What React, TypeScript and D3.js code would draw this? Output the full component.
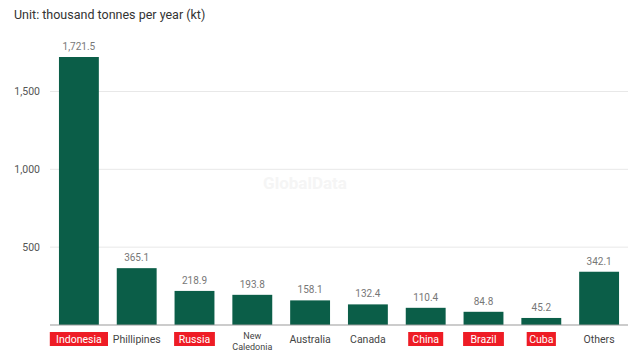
import React from "react";
import * as d3 from "d3";

const categories = ["Indonesia", "Phillipines", "Russia", "New Caledonia", "Australia", "Canada", "China", "Brazil", "Cuba", "Others"];
const values = [1721.5, 365.1, 218.9, 193.8, 158.1, 132.4, 110.4, 84.8, 45.2, 342.1];
const highlighted = ["Indonesia", "Russia", "China", "Brazil", "Cuba"];
const yTicks = [500, 1000, 1500];
const title = "Unit: thousand tonnes per year (kt)";

const W = 630, H = 352;
const left = 50, right = 628, top = 57, bottom = 325;

export default function App() {
  const x = d3.scaleBand<string>().domain(categories).range([left, right]).paddingInner(0.31).paddingOuter(0.155);
  const y = d3.scaleLinear().domain([0, 1721.5]).range([bottom, top]);
  const fmt = d3.format(",.1f");
  const font = "Roboto, 'Liberation Sans', sans-serif";
  return (
    <svg width={W} height={H} style={{ position: "absolute", left: 0, top: 0 }} fontFamily={font}>
      <rect width={W} height={H} fill="#fff" />
      <text x={14} y={19} fontSize={12.5} fill="#333">{title}</text>
      {yTicks.map((t) => (
        <g key={t}>
          <line x1={left} x2={right} y1={y(t)} y2={y(t)} stroke="#e8e8e8" strokeWidth={1} />
          <text x={40} y={y(t) + 4} textAnchor="end" fontSize={10.5} fill="#555">{d3.format(",")(t)}</text>
        </g>
      ))}
      <text x={305} y={189} textAnchor="middle" fontSize={17} fontWeight="bold" fill="#f5f5f5">GlobalData</text>
      {categories.map((c, i) => {
        const bx = x(c)!;
        const bw = x.bandwidth();
        const cx = bx + bw / 2;
        const hl = highlighted.includes(c);
        const wrap = c === "New Caledonia";
        return (
          <g key={c}>
            <rect x={bx} y={y(values[i])} width={bw} height={bottom - y(values[i])} fill="#0b5e48" />
            <text x={cx} y={y(values[i]) - 7} textAnchor="middle" fontSize={10} fill="#777">{fmt(values[i])}</text>
            {hl && (
              <rect x={cx - (c.length * 5.8 + 6) / 2} y={332} width={c.length * 5.8 + 6} height={14} fill="#ee1c25" />
            )}
            {wrap ? (
              <text x={cx} y={339} textAnchor="middle" fontSize={9} fill="#444">
                <tspan x={cx} dy={0}>New</tspan>
                <tspan x={cx} dy={10.5}>Caledonia</tspan>
              </text>
            ) : (
              <text x={cx} y={343} textAnchor="middle" fontSize={10.5} fill={hl ? "#fff" : "#444"}>{c}</text>
            )}
          </g>
        );
      })}
      <line x1={left} x2={right} y1={bottom} y2={bottom} stroke="#999" strokeWidth={1.2} />
    </svg>
  );
}
